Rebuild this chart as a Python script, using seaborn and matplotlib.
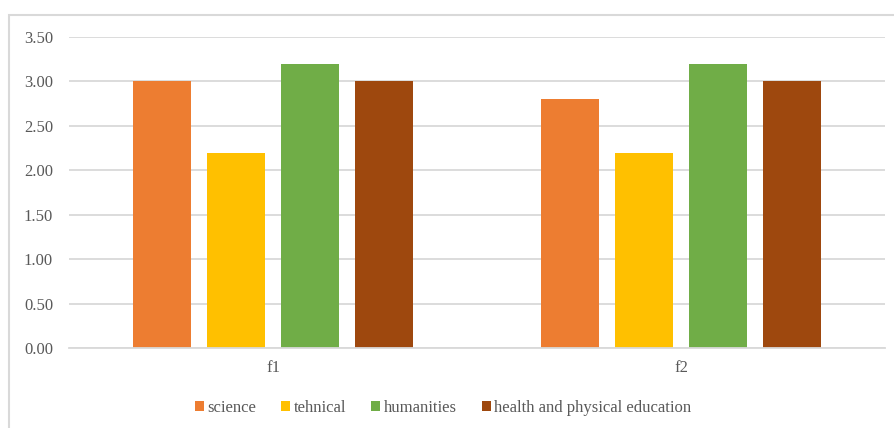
import matplotlib
matplotlib.use("Agg")
import matplotlib.pyplot as plt
import seaborn as sns
import pandas as pd
from matplotlib.patches import Rectangle

features = ["f1", "f2"]
categories = ["science", "tehnical", "humanities", "health and physical education"]
science = [3.00, 2.80]
tehnical = [2.20, 2.20]
humanities = [3.20, 3.20]
health = [3.00, 3.00]
yticks = [0.0, 0.5, 1.0, 1.5, 2.0, 2.5, 3.0, 3.5]
colors = ["#ED7D31", "#FFC000", "#70AD47", "#9E480E"]

rows = []
for cat, vals in zip(categories, [science, tehnical, humanities, health]):
    for f, v in zip(features, vals):
        rows.append({"feature": f, "category": cat, "value": v})
df = pd.DataFrame(rows)

sns.set_theme(style="white")
plt.rcParams["font.family"] = ["Liberation Serif", "DejaVu Serif"]

W, H = 894, 428
fig = plt.figure(figsize=(W / 100, H / 100), dpi=100)
ax = fig.add_axes([69 / W, 1 - 348 / H, (885 - 69) / W, (348 - 37) / H])

sns.barplot(data=df, x="feature", y="value", hue="category", order=features,
            hue_order=categories, palette=colors, width=0.726, gap=0.217,
            ax=ax, legend=False, saturation=1, edgecolor="none")

ax.set_ylim(0, 3.5)
ax.set_xlim(-0.5, 1.5)
ax.set_yticks(yticks)
ax.set_yticklabels([f"{t:.2f}" for t in yticks])
ax.yaxis.grid(True, color="#d9d9d9", linewidth=1.3)
ax.set_axisbelow(True)
for s in ["left", "right", "top"]:
    ax.spines[s].set_visible(False)
ax.spines["bottom"].set_color("#d9d9d9")
ax.spines["bottom"].set_linewidth(1.3)
ax.tick_params(axis="both", length=0, labelsize=12, colors="#595959")
ax.tick_params(axis="y", pad=11.5)
ax.tick_params(axis="x", pad=9)
ax.set_xlabel("")
ax.set_ylabel("")

# outer chart frame (top and left edges visible)
top = 1 - 15 / H
fig.patches.append(Rectangle((9 / W, -0.1), 1.2, top + 0.1, transform=fig.transFigure,
                             fill=False, edgecolor="#d9d9d9", linewidth=1.5))

handles = [Rectangle((0, 0), 1, 1, facecolor=c, edgecolor="none") for c in colors]
fig.legend(handles, categories, loc="center", bbox_to_anchor=(443 / W, 1 - 408 / H),
           ncol=4, frameon=False, handlelength=0.55, handleheight=0.55,
           handletextpad=0.2, columnspacing=1.5, fontsize=12, labelcolor="#595959")

fig.savefig("out.png", dpi=100)
